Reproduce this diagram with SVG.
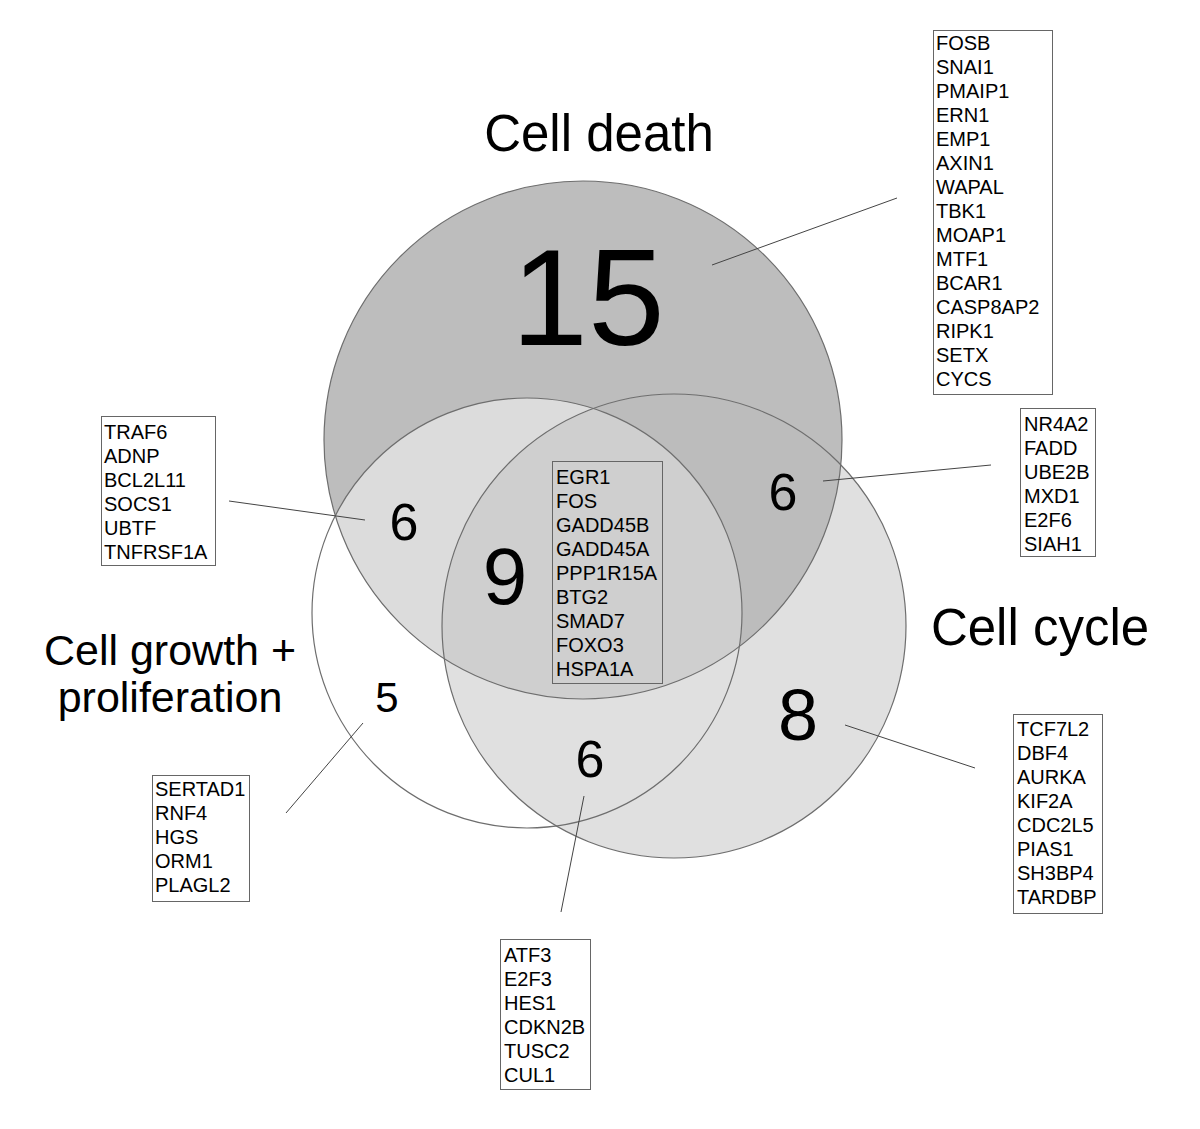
<svg xmlns="http://www.w3.org/2000/svg" width="1200" height="1129" viewBox="0 0 1200 1129">
<style>
.lbl{font-family:"Liberation Sans",Arial,sans-serif;fill:#000}
.gene{font-family:"Liberation Sans",Arial,sans-serif;font-size:20px;fill:#000}
.box{fill:none;stroke:#666;stroke-width:1}
.ring{fill:none;stroke:#6e6e6e;stroke-width:1.2}
.conn line{stroke:#444;stroke-width:1}
</style>
<defs>
<clipPath id="cDeath"><circle cx="583" cy="440" r="259"/></clipPath>
<clipPath id="cGrowth"><circle cx="527" cy="613" r="215"/></clipPath>
<clipPath id="cCycle"><circle cx="674" cy="626" r="232"/></clipPath>
</defs>
<rect width="1200" height="1129" fill="#fff"/>
<g id="fills">
<circle cx="583" cy="440" r="259" fill="#bdbdbd"/>
<circle cx="674" cy="626" r="232" fill="#e0e0e0"/>
<g clip-path="url(#cDeath)"><circle cx="674" cy="626" r="232" fill="#bcbcbc"/></g>
<g clip-path="url(#cDeath)"><circle cx="527" cy="613" r="215" fill="#dcdcdc"/></g>
<g clip-path="url(#cCycle)"><circle cx="527" cy="613" r="215" fill="#e0e0e0"/></g>
<g clip-path="url(#cDeath)"><g clip-path="url(#cCycle)"><circle cx="527" cy="613" r="215" fill="#cfcfcf"/></g></g>
</g>
<g id="node-death"><circle class="ring" cx="583" cy="440" r="259"/></g>
<g id="node-growth"><circle class="ring" cx="527" cy="613" r="215"/></g>
<g id="node-cycle"><circle class="ring" cx="674" cy="626" r="232"/></g>
<g id="titles" class="lbl">
<text x="599" y="151" font-size="51" text-anchor="middle">Cell death</text>
<text x="1040" y="645" font-size="51" text-anchor="middle">Cell cycle</text>
<text x="170" y="665" font-size="43" text-anchor="middle">Cell growth +</text>
<text x="170" y="712" font-size="43" text-anchor="middle">proliferation</text>
</g>
<g id="counts" class="lbl" text-anchor="middle">
<text x="588" y="345" font-size="138">15</text>
<text x="404" y="540" font-size="52">6</text>
<text x="505" y="604" font-size="80">9</text>
<text x="783" y="510" font-size="52">6</text>
<text x="387" y="712" font-size="42">5</text>
<text x="798" y="740" font-size="72">8</text>
<text x="590" y="777" font-size="52">6</text>
</g>
<g id="connectors" class="conn">
<line x1="897" y1="198" x2="712" y2="265"/>
<line x1="229" y1="501" x2="365" y2="520"/>
<line x1="991" y1="465" x2="823" y2="481"/>
<line x1="286" y1="813" x2="363" y2="723"/>
<line x1="561" y1="912" x2="584" y2="796"/>
<line x1="975" y1="768" x2="845" y2="725"/>
</g>
<g id="box-death">
<rect class="box" x="933.5" y="30.5" width="119" height="364"/>
<text class="gene">
<tspan x="936" y="50">FOSB</tspan><tspan x="936" y="74">SNAI1</tspan><tspan x="936" y="98">PMAIP1</tspan><tspan x="936" y="122">ERN1</tspan><tspan x="936" y="146">EMP1</tspan><tspan x="936" y="170">AXIN1</tspan><tspan x="936" y="194">WAPAL</tspan><tspan x="936" y="218">TBK1</tspan><tspan x="936" y="242">MOAP1</tspan><tspan x="936" y="266">MTF1</tspan><tspan x="936" y="290">BCAR1</tspan><tspan x="936" y="314">CASP8AP2</tspan><tspan x="936" y="338">RIPK1</tspan><tspan x="936" y="362">SETX</tspan><tspan x="936" y="386">CYCS</tspan>
</text>
</g>
<g id="box-center">
<rect class="box" x="552.5" y="461.5" width="110" height="222"/>
<text class="gene">
<tspan x="556" y="484">EGR1</tspan><tspan x="556" y="508">FOS</tspan><tspan x="556" y="532">GADD45B</tspan><tspan x="556" y="556">GADD45A</tspan><tspan x="556" y="580">PPP1R15A</tspan><tspan x="556" y="604">BTG2</tspan><tspan x="556" y="628">SMAD7</tspan><tspan x="556" y="652">FOXO3</tspan><tspan x="556" y="676">HSPA1A</tspan>
</text>
</g>
<g id="box-death-growth">
<rect class="box" x="101.5" y="416.5" width="114" height="149"/>
<text class="gene">
<tspan x="104" y="439">TRAF6</tspan><tspan x="104" y="463">ADNP</tspan><tspan x="104" y="487">BCL2L11</tspan><tspan x="104" y="511">SOCS1</tspan><tspan x="104" y="535">UBTF</tspan><tspan x="104" y="559">TNFRSF1A</tspan>
</text>
</g>
<g id="box-death-cycle">
<rect class="box" x="1020.5" y="408.5" width="75" height="148"/>
<text class="gene">
<tspan x="1024" y="431">NR4A2</tspan><tspan x="1024" y="455">FADD</tspan><tspan x="1024" y="479">UBE2B</tspan><tspan x="1024" y="503">MXD1</tspan><tspan x="1024" y="527">E2F6</tspan><tspan x="1024" y="551">SIAH1</tspan>
</text>
</g>
<g id="box-growth">
<rect class="box" x="152.5" y="775.5" width="97" height="126"/>
<text class="gene">
<tspan x="155" y="796">SERTAD1</tspan><tspan x="155" y="820">RNF4</tspan><tspan x="155" y="844">HGS</tspan><tspan x="155" y="868">ORM1</tspan><tspan x="155" y="892">PLAGL2</tspan>
</text>
</g>
<g id="box-growth-cycle">
<rect class="box" x="500.5" y="939.5" width="90" height="150"/>
<text class="gene">
<tspan x="504" y="962">ATF3</tspan><tspan x="504" y="986">E2F3</tspan><tspan x="504" y="1010">HES1</tspan><tspan x="504" y="1034">CDKN2B</tspan><tspan x="504" y="1058">TUSC2</tspan><tspan x="504" y="1082">CUL1</tspan>
</text>
</g>
<g id="box-cycle">
<rect class="box" x="1013.5" y="714.5" width="89" height="199"/>
<text class="gene">
<tspan x="1017" y="736">TCF7L2</tspan><tspan x="1017" y="760">DBF4</tspan><tspan x="1017" y="784">AURKA</tspan><tspan x="1017" y="808">KIF2A</tspan><tspan x="1017" y="832">CDC2L5</tspan><tspan x="1017" y="856">PIAS1</tspan><tspan x="1017" y="880">SH3BP4</tspan><tspan x="1017" y="904">TARDBP</tspan>
</text>
</g>
</svg>
